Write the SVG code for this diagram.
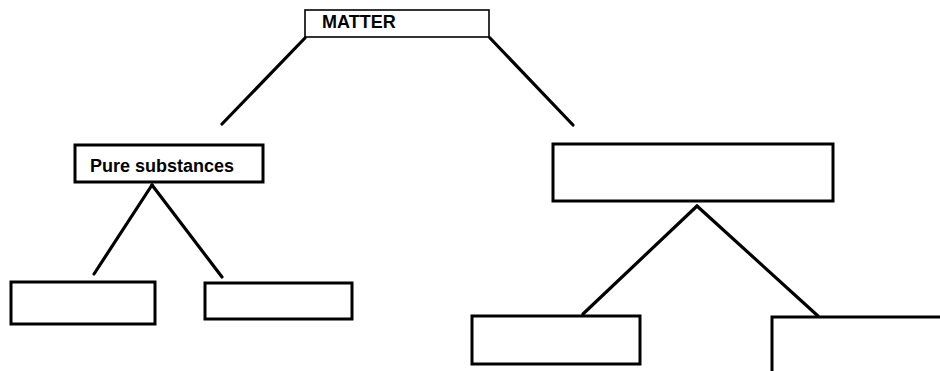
<svg xmlns="http://www.w3.org/2000/svg" width="940" height="371" viewBox="0 0 940 371">
<style>
.box{fill:#fff;stroke:#000;stroke-width:3}
.thin{fill:#fff;stroke:#000;stroke-width:1.6}
.lbl{font-family:"Liberation Sans",Arial,sans-serif;font-weight:bold;font-size:18px;fill:#000}
.con line{stroke:#000;stroke-width:3.2;stroke-linecap:round}
</style>
<rect width="940" height="371" fill="#fff"/>
<g class="con" id="connectors">
<line x1="305" y1="38" x2="222" y2="124"/>
<line x1="490" y1="38" x2="573" y2="125"/>
<line x1="152" y1="185" x2="94" y2="274"/>
<line x1="152" y1="185" x2="222" y2="277"/>
<line x1="697" y1="206" x2="583" y2="314"/>
<line x1="697" y1="206" x2="818" y2="316"/>
</g>
<g id="matter"><rect class="thin" x="305" y="10" width="184" height="27"/><text class="lbl" x="322" y="28">MATTER</text></g>
<g id="pure"><rect class="box" x="75" y="145" width="188" height="37"/><text class="lbl" x="90" y="172">Pure substances</text></g>
<g id="mixtures"><rect class="box" x="553" y="144" width="280" height="57"/></g>
<g id="elements"><rect class="box" x="11" y="282" width="144" height="42"/></g>
<g id="compounds"><rect class="box" x="205" y="283" width="147" height="36"/></g>
<g id="homogeneous"><rect class="box" x="472" y="316" width="168" height="48"/></g>
<g id="heterogeneous"><rect class="box" x="772" y="317" width="180" height="70"/></g>
</svg>
